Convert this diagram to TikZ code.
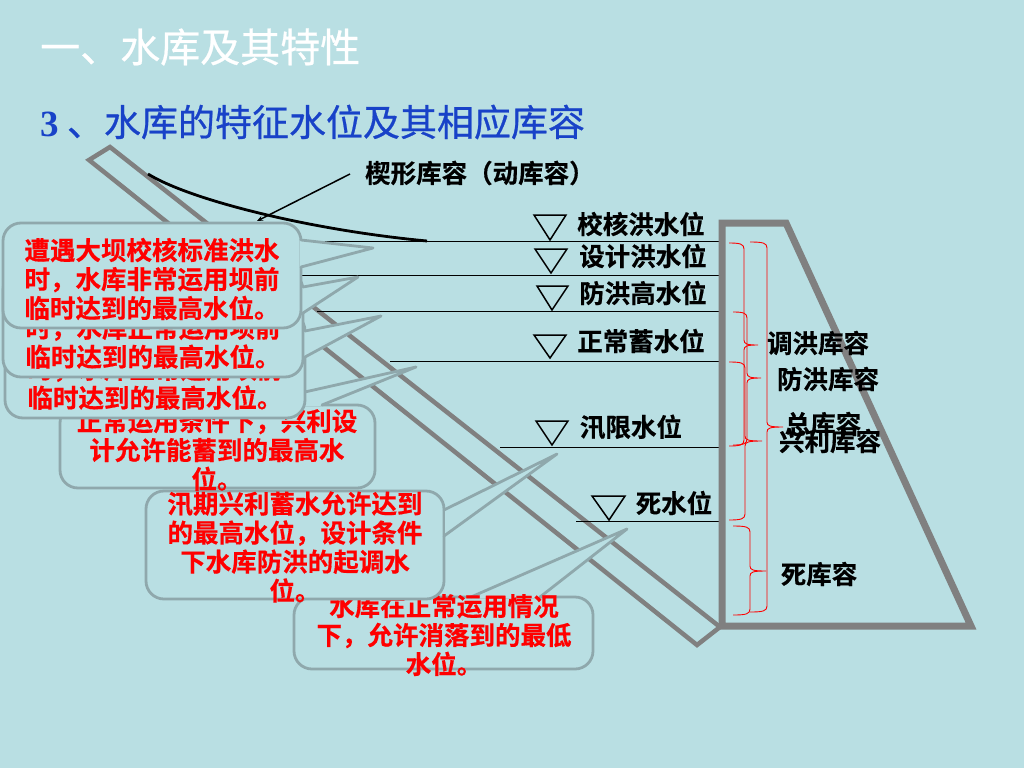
\documentclass[tikz,border=0pt]{standalone}
\usepackage{fontspec}
\setmainfont{Noto Sans CJK SC}
\newfontfamily\numfont{Liberation Serif}
\newfontfamily\headfont[FakeBold=0.6]{Noto Sans CJK SC}
\newfontfamily\heavyfont[FakeBold=0.5]{Noto Sans CJK SC Bold}
\usetikzlibrary{arrows.meta}
\definecolor{bgc}{RGB}{185,223,227}
\definecolor{edgec}{RGB}{143,168,172}
\definecolor{grayc}{RGB}{128,128,128}
\definecolor{bluec}{RGB}{24,66,200}
\newcommand{\redbrace}[6]{% x0,y0,spine,xtip,ytip,y1
  \draw[bracel] (#1,#2) .. controls (#3-4,#2) and (#3,#2+1) .. (#3,#2+6)
    -- (#3,#5-5) .. controls (#3,#5-1) and (#3+3,#5) .. (#4,#5)
    .. controls (#3+3,#5) and (#3,#5+1) .. (#3,#5+5)
    -- (#3,#6-6) .. controls (#3,#6-1) and (#3-4,#6) .. (#1,#6);}
\tikzset{
  x=1pt,y=-1pt,
  bubble/.style={draw=edgec,fill=bgc,line width=2.8pt,rounded corners=18pt,inner sep=0pt},
  tailfill/.style={fill=bgc,draw=none},
  tailedge/.style={draw=edgec,line width=2.8pt,line join=round,line cap=round},
  redtxt/.style={text=red,font=\fontsize{25.5}{29}\selectfont\heavyfont,align=center,inner sep=0pt},
  blacktxt/.style={text=black,font=\fontsize{25.5}{29}\selectfont\heavyfont,inner sep=0pt},
  strip/.style={draw=grayc,line width=4.5pt,line join=miter},
  dam/.style={draw=grayc,line width=7pt,line join=miter},
  water/.style={draw=black,line width=1pt},
  tri/.style={draw=black,line width=1.5pt,line join=miter},
  bracel/.style={draw=red,line width=0.9pt},
}
\begin{document}
\begin{tikzpicture}
\useasboundingbox[fill=bgc] (0,0) rectangle (1024,768);
% titles
\node[anchor=west,inner sep=0pt,text=white,font=\fontsize{40}{44}\selectfont\headfont] (title) at (40,47) {一、水库及其特性};
\node[anchor=west,inner sep=0pt,text=bluec,font=\fontsize{37}{40}\selectfont\headfont] (sub) at (40,122) {{\numfont\bfseries 3} 、水库的特征水位及其相应库容};
% slanted strip
\coordinate (s1) at (110,147);
\coordinate (s2) at (89,160);
\coordinate (s3) at (697,645);
\coordinate (s4) at (720,627);
\draw[strip] (s1) -- (s2) -- (s3) -- (s4) -- cycle;
% water lines
\coordinate (wr1) at (720,241); \coordinate (wl1) at (320,241);
\coordinate (wr2) at (720,275); \coordinate (wl2) at (300,275);
\coordinate (wr3) at (720,311); \coordinate (wl3) at (317,311);
\coordinate (wr4) at (720,361); \coordinate (wl4) at (390,361);
\coordinate (wr5) at (720,447); \coordinate (wl5) at (500,447);
\coordinate (wr6) at (720,521); \coordinate (wl6) at (576,521);
\foreach \i in {1,...,6} \draw[water] (wl\i) -- (wr\i);
% triangles
\draw[tri] (534,215) -- (566,215) -- (550,240) -- cycle;
\draw[tri] (535,249) -- (567,249) -- (551,273) -- cycle;
\draw[tri] (537,286) -- (568,286) -- (552,310) -- cycle;
\draw[tri] (534,335) -- (566,335) -- (550,358) -- cycle;
\draw[tri] (536,421) -- (568,421) -- (552,445) -- cycle;
\draw[tri] (592,496) -- (625,496) -- (609,520) -- cycle;
% labels of levels
\node[blacktxt] (l1) at (641,224) {校核洪水位};
\node[blacktxt] (l2) at (643,256) {设计洪水位};
\node[blacktxt] (l3) at (643,293) {防洪高水位};
\node[blacktxt] (l4) at (641,341) {正常蓄水位};
\node[blacktxt] (l5) at (631,427) {汛限水位};
\node[blacktxt] (l6) at (674,503) {死水位};
% wedge curve and pointer
\coordinate (c0) at (148,174);
\coordinate (c1) at (427,241);
\draw[black,line width=2.8pt] (c0) .. controls (190,200) and (310,230) .. (c1);
\node[blacktxt,anchor=west] (wedge) at (365,173) {楔形库容（动库容）};
\coordinate (p0) at (350,174);
\coordinate (p1) at (257,221);
\draw[black,line width=1.5pt,-{Stealth[length=6pt,width=5pt]}] (p0) -- (p1);
% dam
\coordinate (d1) at (786,223);
\coordinate (d2) at (722,223);
\coordinate (d3) at (722,626);
\coordinate (d4) at (971,626);
\draw[dam] (d1) -- (d2) -- (d3) -- (d4) -- cycle;
% braces
\redbrace{729}{243}{744}{758}{345}{446}
\redbrace{733}{312}{747}{761}{378}{445}
\redbrace{729}{362}{745}{762}{441}{520}
\redbrace{750}{242}{767}{783}{427}{612}
\redbrace{733}{526}{750}{766}{571}{615}
\node[blacktxt] (v1) at (818,343) {调洪库容};
\node[blacktxt] (v2) at (828,379) {防洪库容};
\node[blacktxt] (v3) at (823,424) {总库容};
\node[blacktxt] (v4) at (830,441) {兴利库容};
\node[blacktxt] (v5) at (819,574) {死库容};
% callout 5 (bottom)
\node[bubble,minimum width=299pt,minimum height=72pt] (b5) at (443.5,633) {};
\path[tailfill] (471,598) -- (627,529) -- (540,598) -- cycle;
\draw[tailedge] (471,597) -- (627,529) -- (540,597);
\node[redtxt] (t5) at (444,635) {水库在正常运用情况\\下，允许消落到的最低\\水位。};
% callout 4 (xunqi)
\node[bubble,minimum width=298pt,minimum height=108pt] (b4) at (295,545) {};
\path[tailfill] (445,510) -- (557,454) -- (445,536) -- cycle;
\draw[tailedge] (444,510) -- (557,454) -- (444,536);
\node[redtxt] (t4) at (295,547) {汛期兴利蓄水允许达到\\的最高水位，设计条件\\下水库防洪的起调水\\位。};
% callout 3 (normal)
\node[bubble,minimum width=315pt,minimum height=83pt] (b3) at (217.5,446.5) {};
\path[tailfill] (247,406) -- (416,367) -- (322,406) -- cycle;
\draw[tailedge] (247,405) -- (416,367) -- (322,405);
\node[redtxt] (t3) at (217,450) {正常运用条件下，兴利设\\计允许能蓄到的最高水\\位。};
% callout fp
\node[bubble,minimum width=300pt,minimum height=105pt] (b2) at (155,365.5) {};
\path[tailfill] (304,331) -- (381,316) -- (304,357) -- cycle;
\draw[tailedge] (305,331) -- (381,316) -- (305,357);
\node[redtxt,anchor=south] (t2) at (155,410) {时，水库正常运用坝前\\临时达到的最高水位。};
% callout des
\node[bubble,minimum width=300pt,minimum height=105pt] (b1) at (153,324.5) {};
\path[tailfill] (302,287) -- (358,277) -- (302,313) -- cycle;
\draw[tailedge] (303,287) -- (358,277) -- (303,313);
\node[redtxt,anchor=south] (t1) at (153,369) {时，水库正常运用坝前\\临时达到的最高水位。};
% callout top
\node[bubble,minimum width=298pt,minimum height=105pt] (b0) at (152,275.5) {};
\path[tailfill] (300,240) -- (373,248) -- (300,267) -- cycle;
\draw[tailedge] (301,240) -- (373,248) -- (301,267);
\node[redtxt] (t0) at (152,279) {遭遇大坝校核标准洪水\\时，水库非常运用坝前\\临时达到的最高水位。};
\end{tikzpicture}
\end{document}
